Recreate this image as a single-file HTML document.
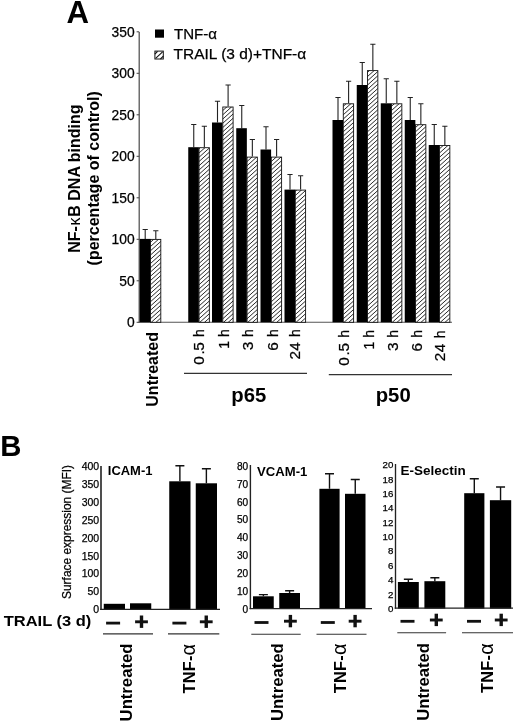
<!DOCTYPE html>
<html><head><meta charset="utf-8"><title>Figure</title>
<style>
html,body{margin:0;padding:0;background:#fff;}
body{width:520px;height:722px;overflow:hidden;}
svg{display:block;}
text{font-family:"Liberation Sans",sans-serif;fill:#000;stroke:#000;stroke-width:0.25px;}
.b{font-weight:bold;stroke:none;}
</style></head><body>
<svg width="520" height="722" viewBox="0 0 520 722">
<rect width="520" height="722" fill="#fff"/>
<text class="b" x="66.4" y="22.8" font-size="31.2">A</text>
<line x1="139.2" y1="31.9" x2="139.2" y2="322.8" stroke="#505050" stroke-width="1.25"/>
<line x1="138.7" y1="322.3" x2="452" y2="322.3" stroke="#555" stroke-width="1.1"/>
<line x1="136.6" y1="322.30" x2="139.2" y2="322.30" stroke="#444" stroke-width="1"/>
<text x="134.6" y="327.20" font-size="13.8" text-anchor="end">0</text>
<line x1="136.6" y1="280.80" x2="139.2" y2="280.80" stroke="#444" stroke-width="1"/>
<text x="134.6" y="285.70" font-size="13.8" text-anchor="end">50</text>
<line x1="136.6" y1="239.30" x2="139.2" y2="239.30" stroke="#444" stroke-width="1"/>
<text x="134.6" y="244.20" font-size="13.8" text-anchor="end">100</text>
<line x1="136.6" y1="197.80" x2="139.2" y2="197.80" stroke="#444" stroke-width="1"/>
<text x="134.6" y="202.70" font-size="13.8" text-anchor="end">150</text>
<line x1="136.6" y1="156.30" x2="139.2" y2="156.30" stroke="#444" stroke-width="1"/>
<text x="134.6" y="161.20" font-size="13.8" text-anchor="end">200</text>
<line x1="136.6" y1="114.80" x2="139.2" y2="114.80" stroke="#444" stroke-width="1"/>
<text x="134.6" y="119.70" font-size="13.8" text-anchor="end">250</text>
<line x1="136.6" y1="73.30" x2="139.2" y2="73.30" stroke="#444" stroke-width="1"/>
<text x="134.6" y="78.20" font-size="13.8" text-anchor="end">300</text>
<line x1="136.6" y1="31.80" x2="139.2" y2="31.80" stroke="#444" stroke-width="1"/>
<text x="134.6" y="36.70" font-size="13.8" text-anchor="end">350</text>
<text class="b" font-size="16" text-anchor="end" transform="translate(79.8 104.4) rotate(-90)">NF-<tspan font-weight="normal" dx="0.6">κ</tspan><tspan dx="0.9">B DNA binding</tspan></text>
<text class="b" font-size="16" text-anchor="middle" transform="translate(99 178.3) rotate(-90)">(percentage of control)</text>
<rect x="155" y="29.5" width="9" height="8.2" fill="#000"/>
<rect x="154.9" y="51.1" width="8.4" height="7.9" fill="#fff" stroke="#111" stroke-width="1"/><path d="M155.6 58.4L162.6 51.8M154.9 54L157.6 51.3M160.4 59L163.3 56.2" stroke="#111" stroke-width="1.1" fill="none"/>
<text x="174" y="38.8" font-size="15.3" textLength="43" lengthAdjust="spacingAndGlyphs">TNF-α</text>
<text x="173.6" y="59.1" font-size="15.3" textLength="132.6" lengthAdjust="spacingAndGlyphs">TRAIL (3 d)+TNF-α</text>
<path d="M142.60 229.50H147.80M145.20 229.50V238.90" stroke="#222" stroke-width="1.1" fill="none"/>
<path d="M153.20 230.80H158.40M155.80 230.80V238.90" stroke="#222" stroke-width="1.1" fill="none"/>
<rect x="139.70" y="238.90" width="10.6" height="83.40" fill="#000"/>
<clipPath id="c1"><rect x="150.50" y="239.40" width="10.30" height="82.90"/></clipPath><rect x="150.50" y="239.40" width="10.30" height="82.90" fill="#fff"/><path clip-path="url(#c1)" d="M149.50 238.90L161.80 227.83M149.50 243.15L161.80 232.08M149.50 247.40L161.80 236.33M149.50 251.65L161.80 240.58M149.50 255.90L161.80 244.83M149.50 260.15L161.80 249.08M149.50 264.40L161.80 253.33M149.50 268.65L161.80 257.58M149.50 272.90L161.80 261.83M149.50 277.15L161.80 266.08M149.50 281.40L161.80 270.33M149.50 285.65L161.80 274.58M149.50 289.90L161.80 278.83M149.50 294.15L161.80 283.08M149.50 298.40L161.80 287.33M149.50 302.65L161.80 291.58M149.50 306.90L161.80 295.83M149.50 311.15L161.80 300.08M149.50 315.40L161.80 304.33M149.50 319.65L161.80 308.58M149.50 323.90L161.80 312.83M149.50 328.15L161.80 317.08M149.50 332.40L161.80 321.33M149.50 336.65L161.80 325.58" stroke="#111" stroke-width="0.9" fill="none"/><rect x="150.50" y="239.40" width="10.30" height="82.90" fill="none" stroke="#111" stroke-width="0.9"/>
<path d="M191.15 124.50H196.35M193.75 124.50V147.20" stroke="#222" stroke-width="1.1" fill="none"/>
<path d="M201.75 126.30H206.95M204.35 126.30V147.20" stroke="#222" stroke-width="1.1" fill="none"/>
<rect x="188.25" y="147.20" width="10.6" height="175.10" fill="#000"/>
<clipPath id="c2"><rect x="199.05" y="147.70" width="10.30" height="174.60"/></clipPath><rect x="199.05" y="147.70" width="10.30" height="174.60" fill="#fff"/><path clip-path="url(#c2)" d="M198.05 145.40L210.35 134.33M198.05 149.65L210.35 138.58M198.05 153.90L210.35 142.83M198.05 158.15L210.35 147.08M198.05 162.40L210.35 151.33M198.05 166.65L210.35 155.58M198.05 170.90L210.35 159.83M198.05 175.15L210.35 164.08M198.05 179.40L210.35 168.33M198.05 183.65L210.35 172.58M198.05 187.90L210.35 176.83M198.05 192.15L210.35 181.08M198.05 196.40L210.35 185.33M198.05 200.65L210.35 189.58M198.05 204.90L210.35 193.83M198.05 209.15L210.35 198.08M198.05 213.40L210.35 202.33M198.05 217.65L210.35 206.58M198.05 221.90L210.35 210.83M198.05 226.15L210.35 215.08M198.05 230.40L210.35 219.33M198.05 234.65L210.35 223.58M198.05 238.90L210.35 227.83M198.05 243.15L210.35 232.08M198.05 247.40L210.35 236.33M198.05 251.65L210.35 240.58M198.05 255.90L210.35 244.83M198.05 260.15L210.35 249.08M198.05 264.40L210.35 253.33M198.05 268.65L210.35 257.58M198.05 272.90L210.35 261.83M198.05 277.15L210.35 266.08M198.05 281.40L210.35 270.33M198.05 285.65L210.35 274.58M198.05 289.90L210.35 278.83M198.05 294.15L210.35 283.08M198.05 298.40L210.35 287.33M198.05 302.65L210.35 291.58M198.05 306.90L210.35 295.83M198.05 311.15L210.35 300.08M198.05 315.40L210.35 304.33M198.05 319.65L210.35 308.58M198.05 323.90L210.35 312.83M198.05 328.15L210.35 317.08M198.05 332.40L210.35 321.33M198.05 336.65L210.35 325.58" stroke="#111" stroke-width="0.9" fill="none"/><rect x="199.05" y="147.70" width="10.30" height="174.60" fill="none" stroke="#111" stroke-width="0.9"/>
<path d="M214.90 101.30H220.10M217.50 101.30V122.50" stroke="#222" stroke-width="1.1" fill="none"/>
<path d="M225.50 85.00H230.70M228.10 85.00V106.50" stroke="#222" stroke-width="1.1" fill="none"/>
<rect x="212.00" y="122.50" width="10.6" height="199.80" fill="#000"/>
<clipPath id="c3"><rect x="222.80" y="107.00" width="10.30" height="215.30"/></clipPath><rect x="222.80" y="107.00" width="10.30" height="215.30" fill="#fff"/><path clip-path="url(#c3)" d="M221.80 107.15L234.10 96.08M221.80 111.40L234.10 100.33M221.80 115.65L234.10 104.58M221.80 119.90L234.10 108.83M221.80 124.15L234.10 113.08M221.80 128.40L234.10 117.33M221.80 132.65L234.10 121.58M221.80 136.90L234.10 125.83M221.80 141.15L234.10 130.08M221.80 145.40L234.10 134.33M221.80 149.65L234.10 138.58M221.80 153.90L234.10 142.83M221.80 158.15L234.10 147.08M221.80 162.40L234.10 151.33M221.80 166.65L234.10 155.58M221.80 170.90L234.10 159.83M221.80 175.15L234.10 164.08M221.80 179.40L234.10 168.33M221.80 183.65L234.10 172.58M221.80 187.90L234.10 176.83M221.80 192.15L234.10 181.08M221.80 196.40L234.10 185.33M221.80 200.65L234.10 189.58M221.80 204.90L234.10 193.83M221.80 209.15L234.10 198.08M221.80 213.40L234.10 202.33M221.80 217.65L234.10 206.58M221.80 221.90L234.10 210.83M221.80 226.15L234.10 215.08M221.80 230.40L234.10 219.33M221.80 234.65L234.10 223.58M221.80 238.90L234.10 227.83M221.80 243.15L234.10 232.08M221.80 247.40L234.10 236.33M221.80 251.65L234.10 240.58M221.80 255.90L234.10 244.83M221.80 260.15L234.10 249.08M221.80 264.40L234.10 253.33M221.80 268.65L234.10 257.58M221.80 272.90L234.10 261.83M221.80 277.15L234.10 266.08M221.80 281.40L234.10 270.33M221.80 285.65L234.10 274.58M221.80 289.90L234.10 278.83M221.80 294.15L234.10 283.08M221.80 298.40L234.10 287.33M221.80 302.65L234.10 291.58M221.80 306.90L234.10 295.83M221.80 311.15L234.10 300.08M221.80 315.40L234.10 304.33M221.80 319.65L234.10 308.58M221.80 323.90L234.10 312.83M221.80 328.15L234.10 317.08M221.80 332.40L234.10 321.33M221.80 336.65L234.10 325.58" stroke="#111" stroke-width="0.9" fill="none"/><rect x="222.80" y="107.00" width="10.30" height="215.30" fill="none" stroke="#111" stroke-width="0.9"/>
<path d="M239.15 105.50H244.35M241.75 105.50V128.20" stroke="#222" stroke-width="1.1" fill="none"/>
<path d="M249.75 139.50H254.95M252.35 139.50V156.60" stroke="#222" stroke-width="1.1" fill="none"/>
<rect x="236.25" y="128.20" width="10.6" height="194.10" fill="#000"/>
<clipPath id="c4"><rect x="247.05" y="157.10" width="10.30" height="165.20"/></clipPath><rect x="247.05" y="157.10" width="10.30" height="165.20" fill="#fff"/><path clip-path="url(#c4)" d="M246.05 153.90L258.35 142.83M246.05 158.15L258.35 147.08M246.05 162.40L258.35 151.33M246.05 166.65L258.35 155.58M246.05 170.90L258.35 159.83M246.05 175.15L258.35 164.08M246.05 179.40L258.35 168.33M246.05 183.65L258.35 172.58M246.05 187.90L258.35 176.83M246.05 192.15L258.35 181.08M246.05 196.40L258.35 185.33M246.05 200.65L258.35 189.58M246.05 204.90L258.35 193.83M246.05 209.15L258.35 198.08M246.05 213.40L258.35 202.33M246.05 217.65L258.35 206.58M246.05 221.90L258.35 210.83M246.05 226.15L258.35 215.08M246.05 230.40L258.35 219.33M246.05 234.65L258.35 223.58M246.05 238.90L258.35 227.83M246.05 243.15L258.35 232.08M246.05 247.40L258.35 236.33M246.05 251.65L258.35 240.58M246.05 255.90L258.35 244.83M246.05 260.15L258.35 249.08M246.05 264.40L258.35 253.33M246.05 268.65L258.35 257.58M246.05 272.90L258.35 261.83M246.05 277.15L258.35 266.08M246.05 281.40L258.35 270.33M246.05 285.65L258.35 274.58M246.05 289.90L258.35 278.83M246.05 294.15L258.35 283.08M246.05 298.40L258.35 287.33M246.05 302.65L258.35 291.58M246.05 306.90L258.35 295.83M246.05 311.15L258.35 300.08M246.05 315.40L258.35 304.33M246.05 319.65L258.35 308.58M246.05 323.90L258.35 312.83M246.05 328.15L258.35 317.08M246.05 332.40L258.35 321.33M246.05 336.65L258.35 325.58" stroke="#111" stroke-width="0.9" fill="none"/><rect x="247.05" y="157.10" width="10.30" height="165.20" fill="none" stroke="#111" stroke-width="0.9"/>
<path d="M263.40 126.80H268.60M266.00 126.80V149.50" stroke="#222" stroke-width="1.1" fill="none"/>
<path d="M274.00 139.50H279.20M276.60 139.50V156.60" stroke="#222" stroke-width="1.1" fill="none"/>
<rect x="260.50" y="149.50" width="10.6" height="172.80" fill="#000"/>
<clipPath id="c5"><rect x="271.30" y="157.10" width="10.30" height="165.20"/></clipPath><rect x="271.30" y="157.10" width="10.30" height="165.20" fill="#fff"/><path clip-path="url(#c5)" d="M270.30 153.90L282.60 142.83M270.30 158.15L282.60 147.08M270.30 162.40L282.60 151.33M270.30 166.65L282.60 155.58M270.30 170.90L282.60 159.83M270.30 175.15L282.60 164.08M270.30 179.40L282.60 168.33M270.30 183.65L282.60 172.58M270.30 187.90L282.60 176.83M270.30 192.15L282.60 181.08M270.30 196.40L282.60 185.33M270.30 200.65L282.60 189.58M270.30 204.90L282.60 193.83M270.30 209.15L282.60 198.08M270.30 213.40L282.60 202.33M270.30 217.65L282.60 206.58M270.30 221.90L282.60 210.83M270.30 226.15L282.60 215.08M270.30 230.40L282.60 219.33M270.30 234.65L282.60 223.58M270.30 238.90L282.60 227.83M270.30 243.15L282.60 232.08M270.30 247.40L282.60 236.33M270.30 251.65L282.60 240.58M270.30 255.90L282.60 244.83M270.30 260.15L282.60 249.08M270.30 264.40L282.60 253.33M270.30 268.65L282.60 257.58M270.30 272.90L282.60 261.83M270.30 277.15L282.60 266.08M270.30 281.40L282.60 270.33M270.30 285.65L282.60 274.58M270.30 289.90L282.60 278.83M270.30 294.15L282.60 283.08M270.30 298.40L282.60 287.33M270.30 302.65L282.60 291.58M270.30 306.90L282.60 295.83M270.30 311.15L282.60 300.08M270.30 315.40L282.60 304.33M270.30 319.65L282.60 308.58M270.30 323.90L282.60 312.83M270.30 328.15L282.60 317.08M270.30 332.40L282.60 321.33M270.30 336.65L282.60 325.58" stroke="#111" stroke-width="0.9" fill="none"/><rect x="271.30" y="157.10" width="10.30" height="165.20" fill="none" stroke="#111" stroke-width="0.9"/>
<path d="M287.40 174.50H292.60M290.00 174.50V189.60" stroke="#222" stroke-width="1.1" fill="none"/>
<path d="M298.00 175.80H303.20M300.60 175.80V189.60" stroke="#222" stroke-width="1.1" fill="none"/>
<rect x="284.50" y="189.60" width="10.6" height="132.70" fill="#000"/>
<clipPath id="c6"><rect x="295.30" y="190.10" width="10.30" height="132.20"/></clipPath><rect x="295.30" y="190.10" width="10.30" height="132.20" fill="#fff"/><path clip-path="url(#c6)" d="M294.30 187.90L306.60 176.83M294.30 192.15L306.60 181.08M294.30 196.40L306.60 185.33M294.30 200.65L306.60 189.58M294.30 204.90L306.60 193.83M294.30 209.15L306.60 198.08M294.30 213.40L306.60 202.33M294.30 217.65L306.60 206.58M294.30 221.90L306.60 210.83M294.30 226.15L306.60 215.08M294.30 230.40L306.60 219.33M294.30 234.65L306.60 223.58M294.30 238.90L306.60 227.83M294.30 243.15L306.60 232.08M294.30 247.40L306.60 236.33M294.30 251.65L306.60 240.58M294.30 255.90L306.60 244.83M294.30 260.15L306.60 249.08M294.30 264.40L306.60 253.33M294.30 268.65L306.60 257.58M294.30 272.90L306.60 261.83M294.30 277.15L306.60 266.08M294.30 281.40L306.60 270.33M294.30 285.65L306.60 274.58M294.30 289.90L306.60 278.83M294.30 294.15L306.60 283.08M294.30 298.40L306.60 287.33M294.30 302.65L306.60 291.58M294.30 306.90L306.60 295.83M294.30 311.15L306.60 300.08M294.30 315.40L306.60 304.33M294.30 319.65L306.60 308.58M294.30 323.90L306.60 312.83M294.30 328.15L306.60 317.08M294.30 332.40L306.60 321.33M294.30 336.65L306.60 325.58" stroke="#111" stroke-width="0.9" fill="none"/><rect x="295.30" y="190.10" width="10.30" height="132.20" fill="none" stroke="#111" stroke-width="0.9"/>
<path d="M335.40 97.50H340.60M338.00 97.50V120.00" stroke="#222" stroke-width="1.1" fill="none"/>
<path d="M346.00 81.30H351.20M348.60 81.30V103.30" stroke="#222" stroke-width="1.1" fill="none"/>
<rect x="332.50" y="120.00" width="10.6" height="202.30" fill="#000"/>
<clipPath id="c7"><rect x="343.30" y="103.80" width="10.30" height="218.50"/></clipPath><rect x="343.30" y="103.80" width="10.30" height="218.50" fill="#fff"/><path clip-path="url(#c7)" d="M342.30 102.90L354.60 91.83M342.30 107.15L354.60 96.08M342.30 111.40L354.60 100.33M342.30 115.65L354.60 104.58M342.30 119.90L354.60 108.83M342.30 124.15L354.60 113.08M342.30 128.40L354.60 117.33M342.30 132.65L354.60 121.58M342.30 136.90L354.60 125.83M342.30 141.15L354.60 130.08M342.30 145.40L354.60 134.33M342.30 149.65L354.60 138.58M342.30 153.90L354.60 142.83M342.30 158.15L354.60 147.08M342.30 162.40L354.60 151.33M342.30 166.65L354.60 155.58M342.30 170.90L354.60 159.83M342.30 175.15L354.60 164.08M342.30 179.40L354.60 168.33M342.30 183.65L354.60 172.58M342.30 187.90L354.60 176.83M342.30 192.15L354.60 181.08M342.30 196.40L354.60 185.33M342.30 200.65L354.60 189.58M342.30 204.90L354.60 193.83M342.30 209.15L354.60 198.08M342.30 213.40L354.60 202.33M342.30 217.65L354.60 206.58M342.30 221.90L354.60 210.83M342.30 226.15L354.60 215.08M342.30 230.40L354.60 219.33M342.30 234.65L354.60 223.58M342.30 238.90L354.60 227.83M342.30 243.15L354.60 232.08M342.30 247.40L354.60 236.33M342.30 251.65L354.60 240.58M342.30 255.90L354.60 244.83M342.30 260.15L354.60 249.08M342.30 264.40L354.60 253.33M342.30 268.65L354.60 257.58M342.30 272.90L354.60 261.83M342.30 277.15L354.60 266.08M342.30 281.40L354.60 270.33M342.30 285.65L354.60 274.58M342.30 289.90L354.60 278.83M342.30 294.15L354.60 283.08M342.30 298.40L354.60 287.33M342.30 302.65L354.60 291.58M342.30 306.90L354.60 295.83M342.30 311.15L354.60 300.08M342.30 315.40L354.60 304.33M342.30 319.65L354.60 308.58M342.30 323.90L354.60 312.83M342.30 328.15L354.60 317.08M342.30 332.40L354.60 321.33M342.30 336.65L354.60 325.58" stroke="#111" stroke-width="0.9" fill="none"/><rect x="343.30" y="103.80" width="10.30" height="218.50" fill="none" stroke="#111" stroke-width="0.9"/>
<path d="M359.65 62.50H364.85M362.25 62.50V85.00" stroke="#222" stroke-width="1.1" fill="none"/>
<path d="M370.25 44.30H375.45M372.85 44.30V70.10" stroke="#222" stroke-width="1.1" fill="none"/>
<rect x="356.75" y="85.00" width="10.6" height="237.30" fill="#000"/>
<clipPath id="c8"><rect x="367.55" y="70.60" width="10.30" height="251.70"/></clipPath><rect x="367.55" y="70.60" width="10.30" height="251.70" fill="#fff"/><path clip-path="url(#c8)" d="M366.55 68.90L378.85 57.83M366.55 73.15L378.85 62.08M366.55 77.40L378.85 66.33M366.55 81.65L378.85 70.58M366.55 85.90L378.85 74.83M366.55 90.15L378.85 79.08M366.55 94.40L378.85 83.33M366.55 98.65L378.85 87.58M366.55 102.90L378.85 91.83M366.55 107.15L378.85 96.08M366.55 111.40L378.85 100.33M366.55 115.65L378.85 104.58M366.55 119.90L378.85 108.83M366.55 124.15L378.85 113.08M366.55 128.40L378.85 117.33M366.55 132.65L378.85 121.58M366.55 136.90L378.85 125.83M366.55 141.15L378.85 130.08M366.55 145.40L378.85 134.33M366.55 149.65L378.85 138.58M366.55 153.90L378.85 142.83M366.55 158.15L378.85 147.08M366.55 162.40L378.85 151.33M366.55 166.65L378.85 155.58M366.55 170.90L378.85 159.83M366.55 175.15L378.85 164.08M366.55 179.40L378.85 168.33M366.55 183.65L378.85 172.58M366.55 187.90L378.85 176.83M366.55 192.15L378.85 181.08M366.55 196.40L378.85 185.33M366.55 200.65L378.85 189.58M366.55 204.90L378.85 193.83M366.55 209.15L378.85 198.08M366.55 213.40L378.85 202.33M366.55 217.65L378.85 206.58M366.55 221.90L378.85 210.83M366.55 226.15L378.85 215.08M366.55 230.40L378.85 219.33M366.55 234.65L378.85 223.58M366.55 238.90L378.85 227.83M366.55 243.15L378.85 232.08M366.55 247.40L378.85 236.33M366.55 251.65L378.85 240.58M366.55 255.90L378.85 244.83M366.55 260.15L378.85 249.08M366.55 264.40L378.85 253.33M366.55 268.65L378.85 257.58M366.55 272.90L378.85 261.83M366.55 277.15L378.85 266.08M366.55 281.40L378.85 270.33M366.55 285.65L378.85 274.58M366.55 289.90L378.85 278.83M366.55 294.15L378.85 283.08M366.55 298.40L378.85 287.33M366.55 302.65L378.85 291.58M366.55 306.90L378.85 295.83M366.55 311.15L378.85 300.08M366.55 315.40L378.85 304.33M366.55 319.65L378.85 308.58M366.55 323.90L378.85 312.83M366.55 328.15L378.85 317.08M366.55 332.40L378.85 321.33M366.55 336.65L378.85 325.58" stroke="#111" stroke-width="0.9" fill="none"/><rect x="367.55" y="70.60" width="10.30" height="251.70" fill="none" stroke="#111" stroke-width="0.9"/>
<path d="M383.65 78.80H388.85M386.25 78.80V103.30" stroke="#222" stroke-width="1.1" fill="none"/>
<path d="M394.25 81.30H399.45M396.85 81.30V103.30" stroke="#222" stroke-width="1.1" fill="none"/>
<rect x="380.75" y="103.30" width="10.6" height="219.00" fill="#000"/>
<clipPath id="c9"><rect x="391.55" y="103.80" width="10.30" height="218.50"/></clipPath><rect x="391.55" y="103.80" width="10.30" height="218.50" fill="#fff"/><path clip-path="url(#c9)" d="M390.55 102.90L402.85 91.83M390.55 107.15L402.85 96.08M390.55 111.40L402.85 100.33M390.55 115.65L402.85 104.58M390.55 119.90L402.85 108.83M390.55 124.15L402.85 113.08M390.55 128.40L402.85 117.33M390.55 132.65L402.85 121.58M390.55 136.90L402.85 125.83M390.55 141.15L402.85 130.08M390.55 145.40L402.85 134.33M390.55 149.65L402.85 138.58M390.55 153.90L402.85 142.83M390.55 158.15L402.85 147.08M390.55 162.40L402.85 151.33M390.55 166.65L402.85 155.58M390.55 170.90L402.85 159.83M390.55 175.15L402.85 164.08M390.55 179.40L402.85 168.33M390.55 183.65L402.85 172.58M390.55 187.90L402.85 176.83M390.55 192.15L402.85 181.08M390.55 196.40L402.85 185.33M390.55 200.65L402.85 189.58M390.55 204.90L402.85 193.83M390.55 209.15L402.85 198.08M390.55 213.40L402.85 202.33M390.55 217.65L402.85 206.58M390.55 221.90L402.85 210.83M390.55 226.15L402.85 215.08M390.55 230.40L402.85 219.33M390.55 234.65L402.85 223.58M390.55 238.90L402.85 227.83M390.55 243.15L402.85 232.08M390.55 247.40L402.85 236.33M390.55 251.65L402.85 240.58M390.55 255.90L402.85 244.83M390.55 260.15L402.85 249.08M390.55 264.40L402.85 253.33M390.55 268.65L402.85 257.58M390.55 272.90L402.85 261.83M390.55 277.15L402.85 266.08M390.55 281.40L402.85 270.33M390.55 285.65L402.85 274.58M390.55 289.90L402.85 278.83M390.55 294.15L402.85 283.08M390.55 298.40L402.85 287.33M390.55 302.65L402.85 291.58M390.55 306.90L402.85 295.83M390.55 311.15L402.85 300.08M390.55 315.40L402.85 304.33M390.55 319.65L402.85 308.58M390.55 323.90L402.85 312.83M390.55 328.15L402.85 317.08M390.55 332.40L402.85 321.33M390.55 336.65L402.85 325.58" stroke="#111" stroke-width="0.9" fill="none"/><rect x="391.55" y="103.80" width="10.30" height="218.50" fill="none" stroke="#111" stroke-width="0.9"/>
<path d="M407.65 97.50H412.85M410.25 97.50V120.00" stroke="#222" stroke-width="1.1" fill="none"/>
<path d="M418.25 103.80H423.45M420.85 103.80V124.20" stroke="#222" stroke-width="1.1" fill="none"/>
<rect x="404.75" y="120.00" width="10.6" height="202.30" fill="#000"/>
<clipPath id="c10"><rect x="415.55" y="124.70" width="10.30" height="197.60"/></clipPath><rect x="415.55" y="124.70" width="10.30" height="197.60" fill="#fff"/><path clip-path="url(#c10)" d="M414.55 124.15L426.85 113.08M414.55 128.40L426.85 117.33M414.55 132.65L426.85 121.58M414.55 136.90L426.85 125.83M414.55 141.15L426.85 130.08M414.55 145.40L426.85 134.33M414.55 149.65L426.85 138.58M414.55 153.90L426.85 142.83M414.55 158.15L426.85 147.08M414.55 162.40L426.85 151.33M414.55 166.65L426.85 155.58M414.55 170.90L426.85 159.83M414.55 175.15L426.85 164.08M414.55 179.40L426.85 168.33M414.55 183.65L426.85 172.58M414.55 187.90L426.85 176.83M414.55 192.15L426.85 181.08M414.55 196.40L426.85 185.33M414.55 200.65L426.85 189.58M414.55 204.90L426.85 193.83M414.55 209.15L426.85 198.08M414.55 213.40L426.85 202.33M414.55 217.65L426.85 206.58M414.55 221.90L426.85 210.83M414.55 226.15L426.85 215.08M414.55 230.40L426.85 219.33M414.55 234.65L426.85 223.58M414.55 238.90L426.85 227.83M414.55 243.15L426.85 232.08M414.55 247.40L426.85 236.33M414.55 251.65L426.85 240.58M414.55 255.90L426.85 244.83M414.55 260.15L426.85 249.08M414.55 264.40L426.85 253.33M414.55 268.65L426.85 257.58M414.55 272.90L426.85 261.83M414.55 277.15L426.85 266.08M414.55 281.40L426.85 270.33M414.55 285.65L426.85 274.58M414.55 289.90L426.85 278.83M414.55 294.15L426.85 283.08M414.55 298.40L426.85 287.33M414.55 302.65L426.85 291.58M414.55 306.90L426.85 295.83M414.55 311.15L426.85 300.08M414.55 315.40L426.85 304.33M414.55 319.65L426.85 308.58M414.55 323.90L426.85 312.83M414.55 328.15L426.85 317.08M414.55 332.40L426.85 321.33M414.55 336.65L426.85 325.58" stroke="#111" stroke-width="0.9" fill="none"/><rect x="415.55" y="124.70" width="10.30" height="197.60" fill="none" stroke="#111" stroke-width="0.9"/>
<path d="M431.65 124.50H436.85M434.25 124.50V145.00" stroke="#222" stroke-width="1.1" fill="none"/>
<path d="M442.25 126.30H447.45M444.85 126.30V145.00" stroke="#222" stroke-width="1.1" fill="none"/>
<rect x="428.75" y="145.00" width="10.6" height="177.30" fill="#000"/>
<clipPath id="c11"><rect x="439.55" y="145.50" width="10.30" height="176.80"/></clipPath><rect x="439.55" y="145.50" width="10.30" height="176.80" fill="#fff"/><path clip-path="url(#c11)" d="M438.55 145.40L450.85 134.33M438.55 149.65L450.85 138.58M438.55 153.90L450.85 142.83M438.55 158.15L450.85 147.08M438.55 162.40L450.85 151.33M438.55 166.65L450.85 155.58M438.55 170.90L450.85 159.83M438.55 175.15L450.85 164.08M438.55 179.40L450.85 168.33M438.55 183.65L450.85 172.58M438.55 187.90L450.85 176.83M438.55 192.15L450.85 181.08M438.55 196.40L450.85 185.33M438.55 200.65L450.85 189.58M438.55 204.90L450.85 193.83M438.55 209.15L450.85 198.08M438.55 213.40L450.85 202.33M438.55 217.65L450.85 206.58M438.55 221.90L450.85 210.83M438.55 226.15L450.85 215.08M438.55 230.40L450.85 219.33M438.55 234.65L450.85 223.58M438.55 238.90L450.85 227.83M438.55 243.15L450.85 232.08M438.55 247.40L450.85 236.33M438.55 251.65L450.85 240.58M438.55 255.90L450.85 244.83M438.55 260.15L450.85 249.08M438.55 264.40L450.85 253.33M438.55 268.65L450.85 257.58M438.55 272.90L450.85 261.83M438.55 277.15L450.85 266.08M438.55 281.40L450.85 270.33M438.55 285.65L450.85 274.58M438.55 289.90L450.85 278.83M438.55 294.15L450.85 283.08M438.55 298.40L450.85 287.33M438.55 302.65L450.85 291.58M438.55 306.90L450.85 295.83M438.55 311.15L450.85 300.08M438.55 315.40L450.85 304.33M438.55 319.65L450.85 308.58M438.55 323.90L450.85 312.83M438.55 328.15L450.85 317.08M438.55 332.40L450.85 321.33M438.55 336.65L450.85 325.58" stroke="#111" stroke-width="0.9" fill="none"/><rect x="439.55" y="145.50" width="10.30" height="176.80" fill="none" stroke="#111" stroke-width="0.9"/>
<text class="b" font-size="16" text-anchor="end" transform="translate(157.5 332) rotate(-90)">Untreated</text>
<text font-size="14" text-anchor="end" transform="translate(203.75 329.20) rotate(-90)">h</text><text font-size="14" text-anchor="end" transform="translate(203.75 342.10) rotate(-90) scale(1.1 1)">0<tspan dx="1.5">.</tspan><tspan dx="-0.3">5</tspan></text>
<text font-size="14" text-anchor="end" transform="translate(229.30 329.20) rotate(-90)">h</text><text font-size="14" text-anchor="end" transform="translate(229.30 341.00) rotate(-90) scale(1.0 1)">1</text>
<text font-size="14" text-anchor="end" transform="translate(253.20 329.20) rotate(-90)">h</text><text font-size="14" text-anchor="end" transform="translate(253.20 341.60) rotate(-90) scale(1.1 1)">3</text>
<text font-size="14" text-anchor="end" transform="translate(278.20 329.20) rotate(-90)">h</text><text font-size="14" text-anchor="end" transform="translate(278.20 342.10) rotate(-90) scale(1.1 1)">6</text>
<text font-size="14" text-anchor="end" transform="translate(300.10 329.20) rotate(-90)">h</text><text font-size="14" text-anchor="end" transform="translate(300.10 342.10) rotate(-90) scale(1.1 1)">2<tspan dx="0.3">4</tspan></text>
<text font-size="14" text-anchor="end" transform="translate(349.20 330.00) rotate(-90)">h</text><text font-size="14" text-anchor="end" transform="translate(349.20 342.90) rotate(-90) scale(1.1 1)">0<tspan dx="1.5">.</tspan><tspan dx="-0.3">5</tspan></text>
<text font-size="14" text-anchor="end" transform="translate(373.50 330.00) rotate(-90)">h</text><text font-size="14" text-anchor="end" transform="translate(373.50 341.80) rotate(-90) scale(1.0 1)">1</text>
<text font-size="14" text-anchor="end" transform="translate(397.60 330.00) rotate(-90)">h</text><text font-size="14" text-anchor="end" transform="translate(397.60 342.40) rotate(-90) scale(1.1 1)">3</text>
<text font-size="14" text-anchor="end" transform="translate(421.80 330.00) rotate(-90)">h</text><text font-size="14" text-anchor="end" transform="translate(421.80 342.90) rotate(-90) scale(1.1 1)">6</text>
<text font-size="14" text-anchor="end" transform="translate(445.30 330.40) rotate(-90)">h</text><text font-size="14" text-anchor="end" transform="translate(445.30 343.80) rotate(-90) scale(1.1 1)">2<tspan dx="0.3">4</tspan></text>
<line x1="184" y1="373.4" x2="307" y2="373.4" stroke="#333" stroke-width="1.1"/>
<line x1="328.8" y1="374.6" x2="452" y2="374.6" stroke="#333" stroke-width="1.1"/>
<text class="b" font-size="20.3" x="248.8" y="402" text-anchor="middle">p65</text>
<text class="b" font-size="20.3" x="393.2" y="402" text-anchor="middle">p50</text>
<text class="b" x="0.2" y="455.8" font-size="29.3">B</text>
<text font-size="11.95" text-anchor="end" transform="translate(71.4 465) rotate(-90)">Surface expression (MFI)</text>
<text class="b" font-size="15.3" x="3.7" y="626.3" textLength="87.6" lengthAdjust="spacingAndGlyphs">TRAIL (3 d)</text>
<text x="99.2" y="613.26" font-size="10.5" text-anchor="end" stroke="none" fill="#151515">0</text>
<text x="99.2" y="595.35" font-size="10.5" text-anchor="end" stroke="none" fill="#151515">50</text>
<text x="99.2" y="577.43" font-size="10.5" text-anchor="end" stroke="none" fill="#151515">100</text>
<text x="99.2" y="559.52" font-size="10.5" text-anchor="end" stroke="none" fill="#151515">150</text>
<text x="99.2" y="541.61" font-size="10.5" text-anchor="end" stroke="none" fill="#151515">200</text>
<text x="99.2" y="523.70" font-size="10.5" text-anchor="end" stroke="none" fill="#151515">250</text>
<text x="99.2" y="505.78" font-size="10.5" text-anchor="end" stroke="none" fill="#151515">300</text>
<text x="99.2" y="487.87" font-size="10.5" text-anchor="end" stroke="none" fill="#151515">350</text>
<text x="99.2" y="469.96" font-size="10.5" text-anchor="end" stroke="none" fill="#151515">400</text>
<text class="b" font-size="13" x="107.8" y="475.3" textLength="44.6" lengthAdjust="spacingAndGlyphs">ICAM-1</text>
<rect x="103.75" y="603.80" width="21.25" height="6.00" fill="#000"/>
<rect x="130.00" y="603.30" width="21.25" height="6.50" fill="#000"/>
<path d="M175.38 465.80H184.38M179.88 465.80V481.30" stroke="#111" stroke-width="1.4" fill="none"/>
<rect x="169.25" y="481.30" width="21.25" height="128.50" fill="#000"/>
<path d="M201.88 468.80H210.88M206.38 468.80V483.30" stroke="#111" stroke-width="1.4" fill="none"/>
<rect x="195.75" y="483.30" width="21.25" height="126.50" fill="#000"/>
<path d="M101 466V609.9" stroke="#222" stroke-width="1.6" fill="none"/><path d="M100.2 609.3499999999999H220" stroke="#222" stroke-width="1.2" fill="none"/>
<rect x="106.10" y="621.70" width="14" height="2.8" fill="#111"/>
<path d="M135.10 621.80H147.90" stroke="#111" stroke-width="2.9" fill="none"/><path d="M141.50 615.50V627.90" stroke="#111" stroke-width="3.4" fill="none"/>
<rect x="172.40" y="621.70" width="14" height="2.8" fill="#111"/>
<path d="M199.85 621.80H212.65" stroke="#111" stroke-width="2.9" fill="none"/><path d="M206.25 615.50V627.90" stroke="#111" stroke-width="3.4" fill="none"/>
<line x1="103" y1="633.9" x2="153" y2="633.9" stroke="#333" stroke-width="1.1"/>
<line x1="168" y1="633.9" x2="219.3" y2="633.9" stroke="#333" stroke-width="1.1"/>
<text class="b" font-size="16.3" text-anchor="end" textLength="77.8" lengthAdjust="spacingAndGlyphs" transform="translate(132 643.6) rotate(-90)">Untreated</text>
<text class="b" font-size="16.3" text-anchor="end" transform="translate(194.5 643.6) rotate(-90)" letter-spacing="0.25">TNF-<tspan font-weight="normal" font-size="20">α</tspan></text>
<text x="248.2" y="613.02" font-size="10.1" text-anchor="end" stroke="none" fill="#151515">0</text>
<text x="248.2" y="595.10" font-size="10.1" text-anchor="end" stroke="none" fill="#151515">10</text>
<text x="248.2" y="577.19" font-size="10.1" text-anchor="end" stroke="none" fill="#151515">20</text>
<text x="248.2" y="559.28" font-size="10.1" text-anchor="end" stroke="none" fill="#151515">30</text>
<text x="248.2" y="541.37" font-size="10.1" text-anchor="end" stroke="none" fill="#151515">40</text>
<text x="248.2" y="523.45" font-size="10.1" text-anchor="end" stroke="none" fill="#151515">50</text>
<text x="248.2" y="505.54" font-size="10.1" text-anchor="end" stroke="none" fill="#151515">60</text>
<text x="248.2" y="487.63" font-size="10.1" text-anchor="end" stroke="none" fill="#151515">70</text>
<text x="248.2" y="469.72" font-size="10.1" text-anchor="end" stroke="none" fill="#151515">80</text>
<text class="b" font-size="13" x="257.1" y="475.8" textLength="50.3" lengthAdjust="spacingAndGlyphs">VCAM-1</text>
<path d="M258.88 594.60H267.88M263.38 594.60V596.30" stroke="#111" stroke-width="1.4" fill="none"/>
<rect x="253.00" y="596.30" width="20.75" height="12.70" fill="#000"/>
<path d="M285.12 590.80H294.12M289.62 590.80V593.00" stroke="#111" stroke-width="1.4" fill="none"/>
<rect x="279.25" y="593.00" width="20.75" height="16.00" fill="#000"/>
<path d="M325.00 473.80H334.00M329.50 473.80V488.80" stroke="#111" stroke-width="1.4" fill="none"/>
<rect x="319.40" y="488.80" width="20.20" height="120.20" fill="#000"/>
<path d="M350.75 479.50H359.75M355.25 479.50V493.80" stroke="#111" stroke-width="1.4" fill="none"/>
<rect x="345.00" y="493.80" width="20.50" height="115.20" fill="#000"/>
<path d="M250.4 465V609.1" stroke="#222" stroke-width="1.4" fill="none"/><path d="M249.6 608.55H372" stroke="#222" stroke-width="1.2" fill="none"/>
<rect x="254.50" y="621.10" width="14" height="2.8" fill="#111"/>
<path d="M284.00 621.20H296.80" stroke="#111" stroke-width="2.9" fill="none"/><path d="M290.40 614.90V627.30" stroke="#111" stroke-width="3.4" fill="none"/>
<rect x="320.80" y="621.10" width="14" height="2.8" fill="#111"/>
<path d="M348.70 621.20H361.50" stroke="#111" stroke-width="2.9" fill="none"/><path d="M355.10 614.90V627.30" stroke="#111" stroke-width="3.4" fill="none"/>
<line x1="251.3" y1="634.3" x2="300.7" y2="634.3" stroke="#333" stroke-width="1.1"/>
<line x1="316.5" y1="634.3" x2="366.5" y2="634.3" stroke="#333" stroke-width="1.1"/>
<text class="b" font-size="16.3" text-anchor="end" textLength="77.8" lengthAdjust="spacingAndGlyphs" transform="translate(283 643.3) rotate(-90)">Untreated</text>
<text class="b" font-size="16.3" text-anchor="end" transform="translate(345.6 643.3) rotate(-90)" letter-spacing="0.25">TNF-<tspan font-weight="normal" font-size="20">α</tspan></text>
<text x="393.3" y="611.87" font-size="9.7" text-anchor="end" stroke="none" fill="#151515">0</text>
<text x="393.3" y="597.52" font-size="9.7" text-anchor="end" stroke="none" fill="#151515">2</text>
<text x="393.3" y="583.17" font-size="9.7" text-anchor="end" stroke="none" fill="#151515">4</text>
<text x="393.3" y="568.82" font-size="9.7" text-anchor="end" stroke="none" fill="#151515">6</text>
<text x="393.3" y="554.47" font-size="9.7" text-anchor="end" stroke="none" fill="#151515">8</text>
<text x="393.3" y="540.12" font-size="9.7" text-anchor="end" stroke="none" fill="#151515">10</text>
<text x="393.3" y="525.77" font-size="9.7" text-anchor="end" stroke="none" fill="#151515">12</text>
<text x="393.3" y="511.42" font-size="9.7" text-anchor="end" stroke="none" fill="#151515">14</text>
<text x="393.3" y="497.07" font-size="9.7" text-anchor="end" stroke="none" fill="#151515">16</text>
<text x="393.3" y="482.72" font-size="9.7" text-anchor="end" stroke="none" fill="#151515">18</text>
<text x="393.3" y="468.37" font-size="9.7" text-anchor="end" stroke="none" fill="#151515">20</text>
<text class="b" font-size="13" x="400.6" y="475.2" textLength="65.2" lengthAdjust="spacingAndGlyphs">E-Selectin</text>
<path d="M403.85 579.20H412.85M408.35 579.20V582.00" stroke="#111" stroke-width="1.4" fill="none"/>
<rect x="397.90" y="582.00" width="20.90" height="26.60" fill="#000"/>
<path d="M430.35 577.80H439.35M434.85 577.80V581.20" stroke="#111" stroke-width="1.4" fill="none"/>
<rect x="424.40" y="581.20" width="20.90" height="27.40" fill="#000"/>
<path d="M469.80 478.70H478.80M474.30 478.70V493.20" stroke="#111" stroke-width="1.4" fill="none"/>
<rect x="464.20" y="493.20" width="20.20" height="115.40" fill="#000"/>
<path d="M496.05 487.00H505.05M500.55 487.00V500.20" stroke="#111" stroke-width="1.4" fill="none"/>
<rect x="489.90" y="500.20" width="21.30" height="108.40" fill="#000"/>
<path d="M395.5 464V608.7" stroke="#222" stroke-width="1.35" fill="none"/><path d="M394.7 608.15H513" stroke="#222" stroke-width="1.2" fill="none"/>
<rect x="400.50" y="619.90" width="14" height="2.8" fill="#111"/>
<path d="M429.90 620.00H442.70" stroke="#111" stroke-width="2.9" fill="none"/><path d="M436.30 613.70V626.10" stroke="#111" stroke-width="3.4" fill="none"/>
<rect x="467.00" y="619.90" width="14" height="2.8" fill="#111"/>
<path d="M494.80 620.00H507.60" stroke="#111" stroke-width="2.9" fill="none"/><path d="M501.20 613.70V626.10" stroke="#111" stroke-width="3.4" fill="none"/>
<line x1="397.3" y1="632.8" x2="446.1" y2="632.8" stroke="#333" stroke-width="1.1"/>
<line x1="462" y1="632.8" x2="513" y2="632.8" stroke="#333" stroke-width="1.1"/>
<text class="b" font-size="16.3" text-anchor="end" textLength="77.8" lengthAdjust="spacingAndGlyphs" transform="translate(429.3 643) rotate(-90)">Untreated</text>
<text class="b" font-size="16.3" text-anchor="end" transform="translate(493.3 643) rotate(-90)" letter-spacing="0.25">TNF-<tspan font-weight="normal" font-size="20">α</tspan></text>
</svg>
</body></html>
